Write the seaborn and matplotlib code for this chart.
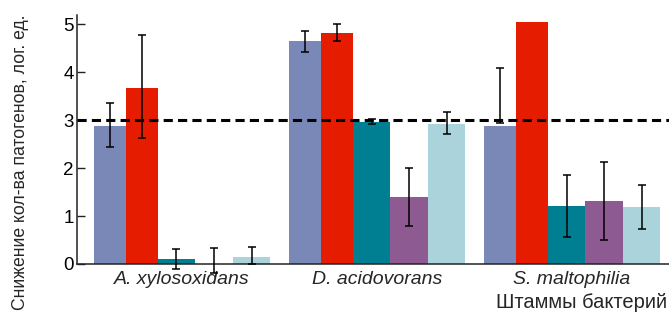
import numpy as np
import pandas as pd
import matplotlib
matplotlib.use("Agg")
import matplotlib.pyplot as plt
from matplotlib.container import BarContainer
import seaborn as sns

# Bacterial strains (x categories)
strains = ["A. xylosoxidans", "D. acidovorans", "S. maltophilia"]

# Five treatment series: mean log reduction per strain
treatments = ["Обработка 1", "Обработка 2", "Обработка 3", "Обработка 4", "Обработка 5"]
series_1 = [2.88, 4.64, 2.88]
series_2 = [3.66, 4.82, 5.04]
series_3 = [0.10, 2.96, 1.20]
series_4 = [0.00, 1.40, 1.31]
series_5 = [0.15, 2.92, 1.19]

# Error bar limits (lower, upper) per strain; NaN where no error bar is shown
err_low_1 = [2.43, 4.43, 2.95]
err_high_1 = [3.35, 4.85, 4.08]
err_low_2 = [2.62, 4.64, np.nan]
err_high_2 = [4.78, 5.01, np.nan]
err_low_3 = [-0.11, 2.91, 0.56]
err_high_3 = [0.32, 3.02, 1.86]
err_low_4 = [-0.18, 0.79, 0.50]
err_high_4 = [0.34, 2.01, 2.12]
err_low_5 = [0.00, 2.71, 0.72]
err_high_5 = [0.35, 3.16, 1.64]

threshold = 3.0
y_ticks = [0, 1, 2, 3, 4, 5]

series = [series_1, series_2, series_3, series_4, series_5]
err_low = [err_low_1, err_low_2, err_low_3, err_low_4, err_low_5]
err_high = [err_high_1, err_high_2, err_high_3, err_high_4, err_high_5]

colors = ["#7a88b8", "#e61c00", "#007f92", "#8e5a92", "#abd3db"]

# Bar layout inside each strain group (offset of left edge, width)
bar_offsets = [-0.451, -0.287, -0.123, 0.067, 0.262]
bar_widths = [0.164, 0.164, 0.190, 0.195, 0.190]

df = pd.DataFrame(
    [(s, t, v) for t, vals in zip(treatments, series) for s, v in zip(strains, vals)],
    columns=["strain", "treatment", "value"],
)

sns.set_style("ticks")
plt.rcParams["font.family"] = ["Liberation Sans", "DejaVu Sans"]

fig = plt.figure(figsize=(6.69, 3.21), dpi=100)
ax = fig.add_axes([0.1151, 0.1776, 0.8849, 0.7754])

sns.barplot(
    data=df, x="strain", y="value", hue="treatment", order=strains,
    hue_order=treatments, palette=colors, saturation=1, errorbar=None,
    legend=False, ax=ax, zorder=1,
)

bar_containers = [c for c in ax.containers if isinstance(c, BarContainer)]
for i, container in enumerate(bar_containers):
    for j, bar in enumerate(container.patches):
        bar.set_x(j + bar_offsets[i])
        bar.set_width(bar_widths[i])
        bar.set_edgecolor("none")
        bar.set_linewidth(0)
    lo = np.array(err_low[i], dtype=float)
    hi = np.array(err_high[i], dtype=float)
    xc = np.arange(len(strains)) + bar_offsets[i] + bar_widths[i] / 2
    ok = ~np.isnan(lo)
    ax.errorbar(
        xc[ok], (lo[ok] + hi[ok]) / 2, yerr=(hi[ok] - lo[ok]) / 2,
        fmt="none", ecolor="black", elinewidth=1.1, capsize=3.2,
        capthick=1.1, zorder=4, clip_on=False,
    )

ax.axhline(threshold, color="black", lw=2.2, ls=(0, (3.0, 1.7)), zorder=3)

ax.set_xlim(-0.538, 2.497)
ax.set_ylim(0, 5.19)
ax.set_yticks(y_ticks)
ax.set_yticklabels([str(t) for t in y_ticks])
ax.tick_params(axis="y", direction="in", length=6, width=1, pad=2.5,
               labelsize=13.5, colors="#222222", labelcolor="black")
ax.tick_params(axis="x", length=0, pad=5, labelsize=14)
for lab in ax.get_xticklabels():
    lab.set_fontstyle("italic")
ax.set_xlabel("")
ax.set_ylabel("")

sns.despine(ax=ax)
for side in ("left", "bottom"):
    ax.spines[side].set_linewidth(1.1)
    ax.spines[side].set_color("#222222")

fig.text(0.031, 1 - 162 / 321, "Снижение кол-ва патогенов, лог. ед.",
         rotation=90, ha="center", va="center", fontsize=12.7)
fig.text(0.997, 1 - 303 / 321, "Штаммы бактерий", ha="right", va="center",
         fontsize=14.5)

fig.savefig("out.png", dpi=100)
